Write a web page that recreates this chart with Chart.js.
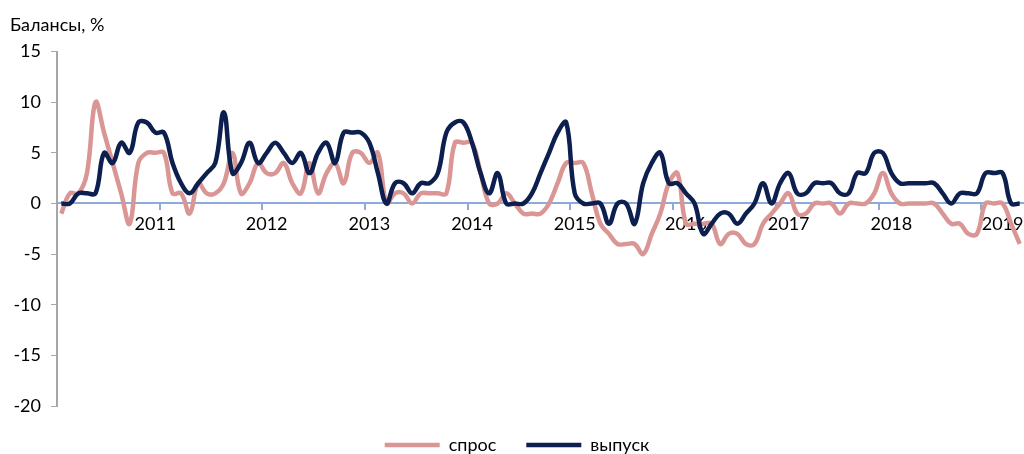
<!DOCTYPE html>
<html><head><meta charset="utf-8">
<script src="https://cdn.jsdelivr.net/npm/chart.js@4.4.0/dist/chart.umd.min.js"></script>
<style>html,body{margin:0;padding:0;background:#fff;}#wrap{width:1024px;height:454px;}</style>
</head><body><div id="wrap"><canvas id="c" width="1024" height="454"></canvas></div>
<script>
// Monthly data, Jan 2010 .. May 2019
const firstYear = 2010, monthCount = 113;
const seriesNames = ['спрос', 'выпуск'];
const demand = [
  -1, 1, 1, 3, 10, 7, 4, 1, -2, 4,
  5, 5, 5, 1, 1, -1, 2, 1, 1, 2,
  5, 1, 2, 4, 3, 3, 4, 2, 1, 4,
  1, 3, 4, 2, 5, 5, 4, 5, 0, 1,
  1, 0, 1, 1, 1, 1, 6, 6, 6, 3,
  0, 0, 1, 0, -1, -1, -1, 0, 2, 4,
  4, 4, 1, -2, -3, -4, -4, -4, -5, -3,
  -1, 2, 3, -2, -2, -2, -2, -4, -3, -3,
  -4, -4, -2, -1, 0, 1, -1, -1, 0, 0,
  0, -1, 0, 0, 0, 1, 3, 1, 0, 0,
  0, 0, 0, -1, -2, -2, -3, -3, 0, 0,
  0, -2, -4
];
const output = [
  0, 0, 1, 1, 1, 5, 4, 6, 5, 8,
  8, 7, 7, 4, 2, 1, 2, 3, 4, 9,
  3, 4, 6, 4, 5, 6, 5, 4, 5, 3,
  5, 6, 4, 7, 7, 7, 6, 3, 0, 2,
  2, 1, 2, 2, 3, 7, 8, 8, 6, 3,
  1, 3, 0, 0, 0, 1, 3, 5, 7, 8,
  1, 0, 0, 0, -2, 0, 0, -2, 2, 4,
  5, 2, 2, 1, 0, -3, -2, -1, -1, -2,
  -1, 0, 2, 0, 2, 3, 1, 1, 2, 2,
  2, 1, 1, 3, 3, 5, 5, 3, 2, 2,
  2, 2, 2, 1, 0, 1, 1, 1, 3, 3,
  3, 0, 0
];
// Year tick labels and the category (month index) each one sits under in the source
const yearLabels = ['2011', '2012', '2013', '2014', '2015', '2016', '2017', '2018', '2019'];
const yearLabelAt = [11, 24, 36, 48, 60, 73, 85, 97, 110];
const yTickValues = [15, 10, 5, 0, -5, -10, -15, -20];
const titleText = 'Балансы, %';

const categories = [];
for (let i = 0; i < monthCount; i++) {
  const y = firstYear + Math.floor(i / 12), m = (i % 12) + 1;
  categories.push((m < 10 ? '0' : '') + m + '.' + y);
}
const tickText = categories.map(() => '');
yearLabelAt.forEach((k, j) => { tickText[k] = yearLabels[j]; });

const PINK = '#D99694', NAVY = '#0C1F4E', AXISBLUE = '#8EAADB', AXISGRAY = '#A6A6A6';
const FONT = 'Lato, "DejaVu Sans", sans-serif';
Chart.defaults.font.family = FONT;
Chart.defaults.color = '#000';

new Chart(document.getElementById('c'), {
  type: 'line',
  data: {
    labels: categories,
    datasets: [
      { label: seriesNames[0], data: demand, borderColor: PINK, backgroundColor: PINK, borderWidth: 4.5, pointRadius: 0, tension: 0.4, fill: false, order: 1 },
      { label: seriesNames[1], data: output, borderColor: NAVY, backgroundColor: NAVY, borderWidth: 4.5, pointRadius: 0, tension: 0.4, fill: false, order: 0 }
    ]
  },
  options: {
    responsive: false,
    animation: false,
    layout: { padding: { left: 10, right: 0, top: 0, bottom: 0 } },
    plugins: {
      tooltip: { enabled: false },
      title: { display: true, text: titleText, align: 'start', color: '#000', font: { size: 18, weight: 'normal' }, padding: { top: 14, bottom: 16 } },
      legend: {
        position: 'bottom', maxHeight: 48,
        labels: { boxWidth: 55, boxHeight: 0, padding: 30, color: '#000', font: { size: 18 },
          sort: (a, b) => a.datasetIndex - b.datasetIndex }
      }
    },
    scales: {
      x: {
        type: 'category',
        position: { y: 0 },
        offset: true,
        ticks: { autoSkip: false, maxRotation: 0, minRotation: 0, padding: 4, font: { size: 18 }, color: '#000',
          callback: (v, i) => tickText[i] },
        grid: { offset: true, drawOnChartArea: false, drawTicks: true, tickLength: 6, lineWidth: 2,
          color: ctx => (ctx.index % 12 === 0 && ctx.index > 0 && ctx.index < monthCount) ? AXISBLUE : 'rgba(0,0,0,0)' },
        border: { color: AXISBLUE, width: 2 }
      },
      y: {
        min: -20, max: 15,
        afterBuildTicks: s => { s.ticks = yTickValues.slice().reverse().map(v => ({ value: v })); },
        ticks: { padding: 10, font: { size: 18 }, color: '#000' },
        grid: { drawOnChartArea: false, drawTicks: true, tickLength: 6, color: AXISGRAY, lineWidth: 1 },
        border: { color: AXISGRAY, width: 2 },
        afterFit: s => { s.width = 47; }
      }
    }
  }
});
</script></body></html>
